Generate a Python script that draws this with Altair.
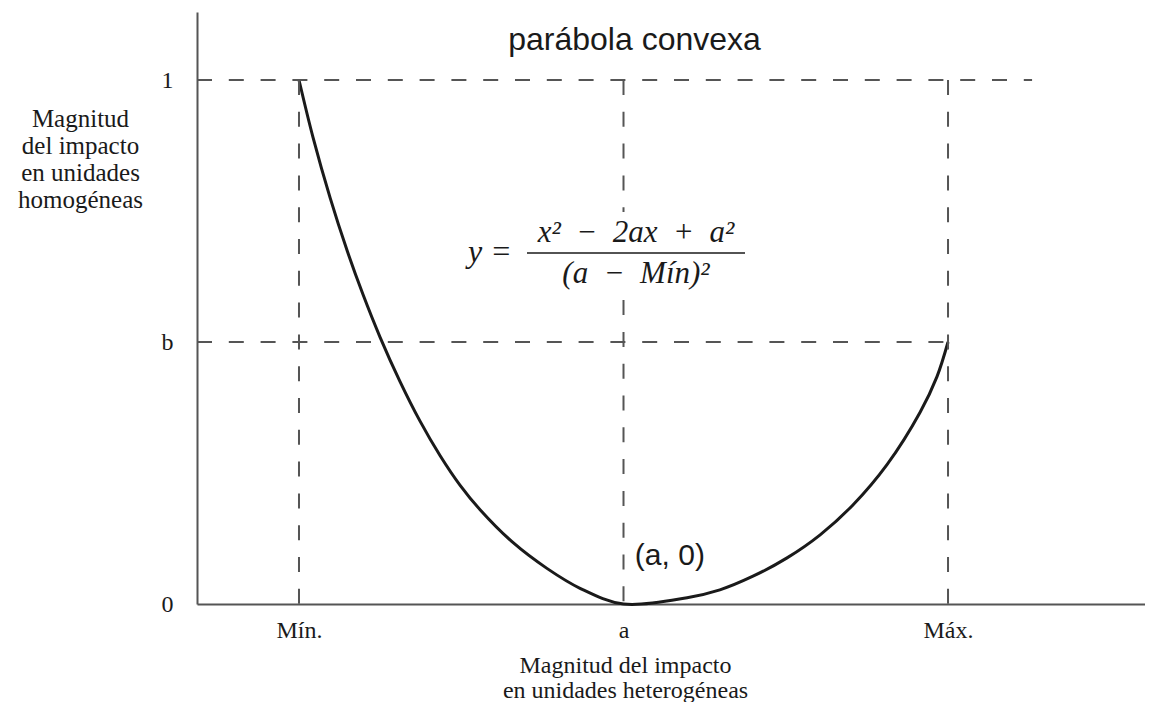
import altair as alt
import pandas as pd

# ---- data ----
curve_x = [1.000, 1.043, 1.096, 1.148, 1.197, 1.250, 1.311, 1.373, 1.435, 1.496, 1.558, 1.660, 1.764,
           1.866, 2.000,
           2.196, 2.297, 2.399, 2.504, 2.606, 2.707, 2.812, 2.914, 2.966, 3.000]
curve_y = [1.000, 0.891, 0.775, 0.675, 0.591, 0.509, 0.425, 0.349, 0.283, 0.227, 0.180, 0.117, 0.068,
           0.030, 0.000,
           0.012, 0.027, 0.053, 0.088, 0.132, 0.189, 0.266, 0.366, 0.434, 0.500]

x_ticks = [1, 2, 3]
x_tick_labels = ["Mín.", "a", "Máx."]
y_ticks = [0, 0.5, 1]
y_tick_labels = ["0", "b", "1"]

MIN_X, A_X, MAX_X = 1, 2, 3
B_Y, TOP_Y = 0.5, 1
X_DOMAIN = [0.6857, 3.607]
Y_DOMAIN = [0, 1.1298]
TOP_LINE_END = 3.259
GAP_LOW, GAP_HIGH = 0.58, 0.748

x_title = ["Magnitud del impacto", "en unidades heterogéneas"]
y_title = ["Magnitud", "del impacto", "en unidades", "homogéneas"]
chart_title = "parábola convexa"
point_label = "(a, 0)"
formula_lhs = "y ="
formula_num = "x²\u2002−\u20022ax\u2002+\u2002a²"
formula_den = "(a\u2002−\u2002Mín)²"

SERIF = "Liberation Serif"
SANS = "Liberation Sans"
GRAY = "#555555"
INK = "#1a1a1a"

xs = alt.Scale(domain=X_DOMAIN, nice=False, zero=False)
ys = alt.Scale(domain=Y_DOMAIN, nice=False, zero=False)


def label_expr(vals, labels):
    expr = "''"
    for v, l in reversed(list(zip(vals, labels))):
        expr = f"datum.value == {v} ? '{l}' : ({expr})"
    return expr


x_axis = alt.Axis(
    values=x_ticks, labelExpr=label_expr(x_ticks, x_tick_labels),
    ticks=False, tickSize=0, grid=False,
    domainColor=GRAY, domainWidth=2,
    labelFont=SERIF, labelFontSize=24, labelColor=INK, labelPadding=14,
    labelFlush=False, labelOverlap=False,
    title=x_title, titleFont=SERIF, titleFontSize=24, titleFontWeight="normal",
    titleColor=INK, titleX=428, titleY=68, titleAlign="center",
    titleBaseline="alphabetic", titleLineHeight=25,
)
y_axis = alt.Axis(
    values=y_ticks, labelExpr=label_expr(y_ticks, y_tick_labels),
    ticks=False, tickSize=0, grid=False,
    domainColor=GRAY, domainWidth=2,
    labelFont=SERIF, labelFontSize=24, labelColor=INK, labelPadding=24,
    labelFlush=False, labelOverlap=False,
    title=y_title, titleFont=SERIF, titleFontSize=25, titleFontWeight="normal",
    titleColor=INK, titleAngle=0, titleX=-117, titleY=114, titleAlign="center",
    titleBaseline="alphabetic", titleLineHeight=27,
)


def X(field="x"):
    return alt.X(f"{field}:Q", scale=xs, axis=x_axis)


def Y(field="y"):
    return alt.Y(f"{field}:Q", scale=ys, axis=y_axis)


curve_df = pd.DataFrame({"x": curve_x, "y": curve_y})
curve = alt.Chart(curve_df).mark_line(
    color=INK, strokeWidth=3, interpolate="catmull-rom"
).encode(x=X(), y=Y())

guides_df = pd.DataFrame({
    "x":  [X_DOMAIN[0], X_DOMAIN[0], MIN_X, A_X, A_X, MAX_X],
    "x2": [TOP_LINE_END, MAX_X, MIN_X, A_X, A_X, MAX_X],
    "y":  [TOP_Y, B_Y, TOP_Y, TOP_Y, GAP_LOW, TOP_Y],
    "y2": [TOP_Y, B_Y, 0, GAP_HIGH, 0, 0],
})
guides = alt.Chart(guides_df).mark_rule(
    color=GRAY, strokeWidth=2, strokeDash=[15, 16.8]
).encode(x=X(), x2="x2:Q", y=Y(), y2="y2:Q")


def text_layer(x, y, t, **props):
    df = pd.DataFrame({"x": [x], "y": [y], "t": [t]})
    return alt.Chart(df).mark_text(**props).encode(x=X(), y=Y(), text="t:N")


title_txt = text_layer(2.034, 1.058, chart_title, font=SANS, fontSize=32,
                       color=INK, align="center", baseline="alphabetic")
point_txt = text_layer(2.035, 0.0744, point_label, font=SANS, fontSize=30,
                       color=INK, align="left", baseline="alphabetic")
lhs_txt = text_layer(1.656, 0.6527, formula_lhs, font=SERIF, fontSize=32,
                     fontStyle="italic", color=INK, align="right", baseline="alphabetic")
num_txt = text_layer(2.0385, 0.6908, formula_num, font=SERIF, fontSize=31,
                     fontStyle="italic", color=INK, align="center", baseline="alphabetic")
den_txt = text_layer(2.0385, 0.6126, formula_den, font=SERIF, fontSize=31,
                     fontStyle="italic", color=INK, align="center", baseline="alphabetic")

bar_df = pd.DataFrame({"x": [1.7026], "x2": [2.3744], "y": [0.6698]})
bar = alt.Chart(bar_df).mark_rule(color=INK, strokeWidth=1.5).encode(
    x=X(), x2="x2:Q", y=Y()
)

chart = alt.layer(
    curve, guides, bar, title_txt, point_txt, lhs_txt, num_txt, den_txt
).properties(
    width=948, height=592,
    padding={"left": 189, "top": 4, "right": 0, "bottom": 98},
    autosize=alt.AutoSizeParams(type="none"),
    background="white",
).configure_view(stroke=None)

chart.save("out.html", embed_options={"renderer": "svg", "actions": False})
